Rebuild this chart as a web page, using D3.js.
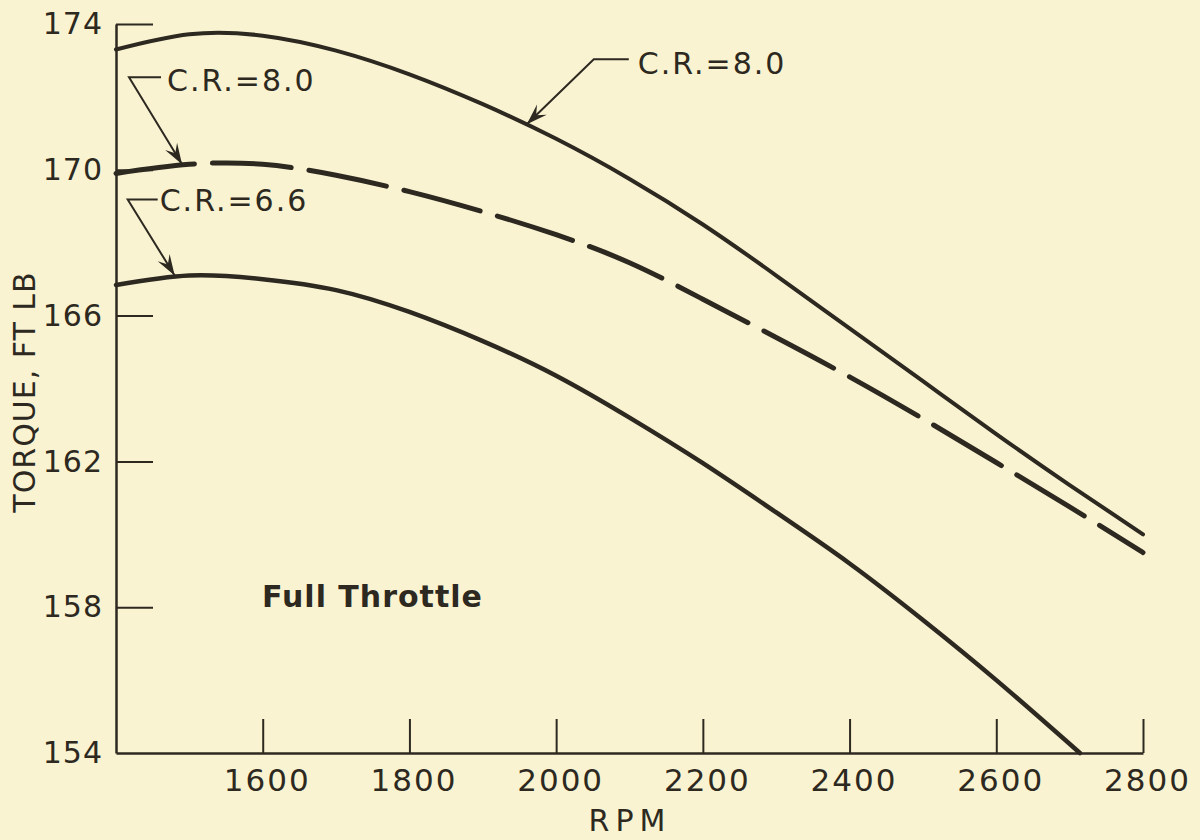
<!DOCTYPE html>
<html>
<head>
<meta charset="utf-8">
<script src="https://cdn.jsdelivr.net/npm/d3@7"></script>
<style>
  html, body { margin: 0; padding: 0; background: #f9f3d2; }
  svg { display: block; }
</style>
</head>
<body>
<div id="chart"></div>
<script>
// values (torque in ft-lb against engine rpm)

var rpm = [1400, 1500, 1600, 1700, 1800, 1900, 2000, 2100, 2200, 2300, 2400, 2500, 2600, 2700, 2800];
var cr80Solid = [173.3, 173.72, 173.68, 173.27, 172.62, 171.8, 170.85, 169.75, 168.5, 167.1, 165.65, 164.2, 162.75, 161.35, 160.0];
var cr80Dash = [169.9, 170.15, 170.15, 169.85, 169.4, 168.85, 168.22, 167.45, 166.45, 165.4, 164.32, 163.17, 161.97, 160.75, 159.5];
var rpm66 = [1400, 1500, 1600, 1700, 1800, 1900, 2000, 2100, 2200, 2300, 2400, 2500, 2600, 2714];
var cr66 = [166.84, 167.1, 167.0, 166.7, 166.1, 165.3, 164.35, 163.2, 161.95, 160.6, 159.2, 157.65, 156.0, 154.0];

var xTicks = [1600, 1800, 2000, 2200, 2400, 2600, 2800];
var yTicks = [154, 158, 162, 166, 170, 174];

// labels with the point on the curve that each arrow touches
var notes = [
  {text: "C.R.=8.0", rpm: 1490, torque: 170.15},
  {text: "C.R.=6.6", rpm: 1480, torque: 167.1},
  {text: "C.R.=8.0", rpm: 1960, torque: 171.25}
];

var w = 1200,
    h = 840,
    ink = "#2d2920",
    font = "DejaVu Sans",
    svg = d3.select("#chart")
            .append("svg")
            .attr("width", w)
            .attr("height", h);

render();

function render() {
    var formatNum = d3.format("d");

    var x = d3.scaleLinear()
        .domain([1400, 2800])
        .range([116, 1143]);

    var y = d3.scaleLinear()
        .domain([154, 174])
        .range([753, 24]);

    svg.append("rect")
        .attr("width", w)
        .attr("height", h)
        .attr("fill", "#f9f3d2");

    // y axis, ticks pointing into the plot
    var gy = svg.append("g")
        .attr("transform", "translate(116,0)")
        .call(d3.axisLeft(y).tickValues(yTicks).tickFormat(formatNum)
            .tickSize(-37).tickSizeOuter(0).tickPadding(13));

    // x axis, ticks pointing up
    var gx = svg.append("g")
        .attr("transform", "translate(0,753)")
        .call(d3.axisBottom(x).tickValues(xTicks).tickFormat(formatNum)
            .tickSize(-34).tickSizeOuter(0).tickPadding(16));

    [gx, gy].forEach(function(g) {
        g.select(".domain").attr("stroke", ink).attr("stroke-width", 2.5);
        g.selectAll(".tick line").attr("stroke", ink).attr("stroke-width", 2);
        g.selectAll(".tick text")
            .attr("fill", ink)
            .attr("font-family", font)
            .attr("font-size", 30)
            .attr("letter-spacing", 2);
    });
    gy.select(".tick line").remove();
    gy.selectAll(".tick text").attr("letter-spacing", 1);
    gx.selectAll(".tick text").attr("font-size", 31).attr("dx", 4);

    // the three curves
    var line = d3.line()
        .x(function(d) { return x(d[0]); })
        .y(function(d) { return y(d[1]); })
        .curve(d3.curveNatural);

    var curves = [
        {pts: d3.zip(rpm, cr80Solid), dash: null, width: 4},
        {pts: d3.zip(rpm, cr80Dash), dash: "79,18", width: 5},
        {pts: d3.zip(rpm66, cr66), dash: null, width: 4.5}
    ];

    curves.forEach(function(c) {
        svg.append("path")
            .datum(c.pts)
            .attr("fill", "none")
            .attr("stroke", ink)
            .attr("stroke-width", c.width)
            .attr("stroke-linecap", "round")
            .attr("stroke-dasharray", c.dash)
            .attr("d", line);
    });

    // arrowhead for the leaders
    svg.append("defs").append("marker")
        .attr("id", "head")
        .attr("markerUnits", "userSpaceOnUse")
        .attr("viewBox", "-22 -8 24 16")
        .attr("refX", 0)
        .attr("refY", 0)
        .attr("markerWidth", 24)
        .attr("markerHeight", 16)
        .attr("orient", "auto")
        .append("path")
        .attr("d", "M0,0L-21,-7L-13,0L-21,7Z")
        .attr("fill", ink);

    // elbow offset from the tip, length of the flat stub, text offset from elbow
    var layout = [
        {dx: -53, dy: -87, stub: 32, tx: 38, ty: 14},
        {dx: -47, dy: -76, stub: 30, tx: 32, ty: 11},
        {dx: 67, dy: -65, stub: 35, tx: 44, ty: 15}
    ];

    notes.forEach(function(n, i) {
        var L = layout[i],
            px = x(n.rpm),
            py = y(n.torque),
            ex = px + L.dx,
            ey = py + L.dy;

        svg.append("path")
            .attr("d", "M" + (ex + L.stub) + "," + ey + "L" + ex + "," + ey + "L" + px + "," + py)
            .attr("fill", "none")
            .attr("stroke", ink)
            .attr("stroke-width", 2)
            .attr("marker-end", "url(#head)");

        svg.append("text")
            .attr("x", ex + L.tx)
            .attr("y", ey + L.ty)
            .attr("font-family", font)
            .attr("font-size", 30)
            .attr("letter-spacing", 2)
            .attr("fill", ink)
            .text(n.text);
    });

    // titles
    svg.append("text")
        .attr("transform", "translate(35,392) rotate(-90)")
        .attr("text-anchor", "middle")
        .attr("font-family", font)
        .attr("font-size", 30)
        .attr("letter-spacing", 1)
        .attr("fill", ink)
        .text("TORQUE, FT LB");

    svg.append("text")
        .attr("x", 630)
        .attr("y", 831)
        .attr("text-anchor", "middle")
        .attr("font-family", font)
        .attr("font-size", 30)
        .attr("letter-spacing", 6)
        .attr("fill", ink)
        .text("RPM");

    svg.append("text")
        .attr("x", 262)
        .attr("y", 607)
        .attr("font-family", font)
        .attr("font-weight", "bold")
        .attr("font-size", 30)
        .attr("letter-spacing", 1)
        .attr("fill", ink)
        .text("Full Throttle");
}
</script>
</body>
</html>
